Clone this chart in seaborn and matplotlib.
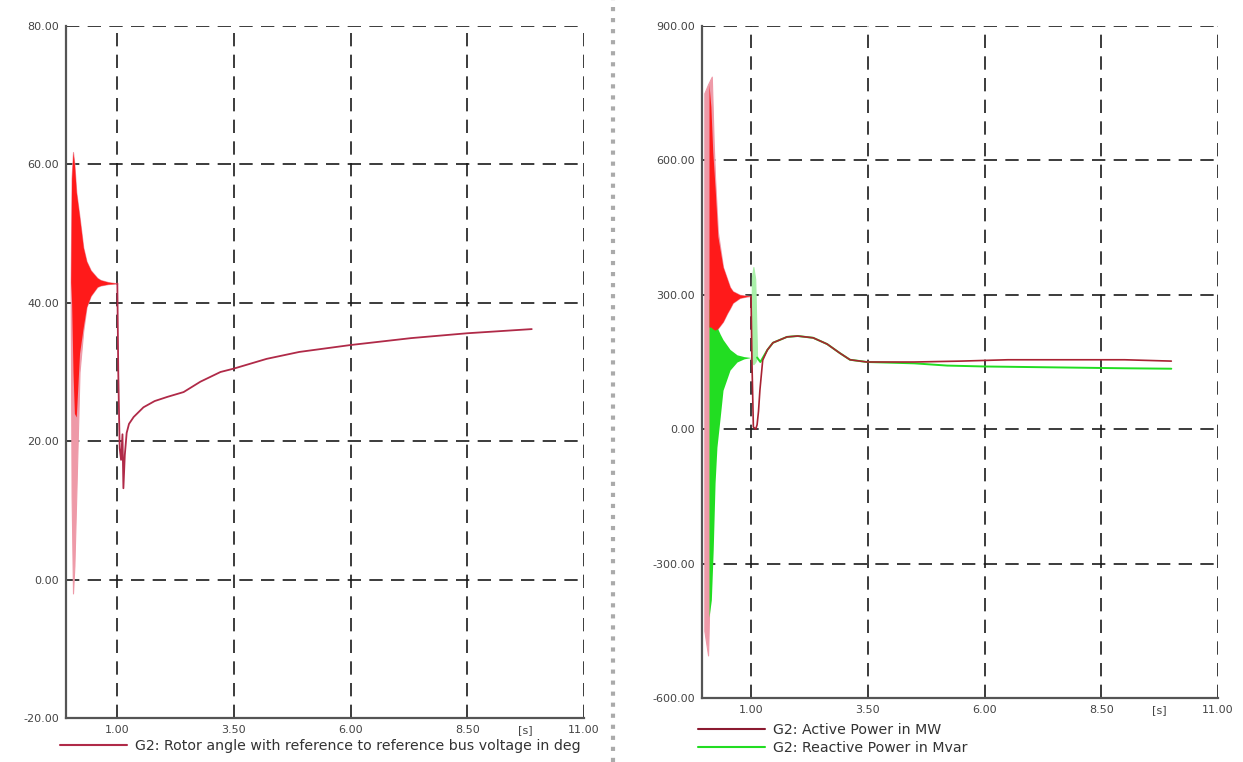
import numpy as np
import pandas as pd
import matplotlib
matplotlib.use("Agg")
import matplotlib.pyplot as plt
from matplotlib.lines import Line2D
import seaborn as sns

# ---------------- data ----------------
# shared x axis
x_major = [1.0, 3.5, 6.0, 8.5, 11.0]
x_major_labels = ["1.00", "3.50", "6.00", "8.50", "11.00"]
x_minor = [2.25, 4.75, 7.25, 9.75]
x_minor_labels = ["", "", "", "[s]"]

# left: rotor angle [deg]
rot_yticks = [-20, 0, 20, 40, 60, 80]
rot_yminor = [-10, 10, 30, 50, 70]
# fault period oscillation envelope
rot_env_t = [0.0, 0.02, 0.05, 0.08, 0.12, 0.19, 0.27, 0.34, 0.43, 0.57, 0.64, 0.80, 1.00]
rot_env_hi = [43.0, 58.0, 61.8, 60.0, 56.0, 52.4, 48.0, 46.0, 44.7, 43.6, 43.3, 43.0, 42.8]
rot_env_lo = [43.0, 40.0, 30.0, 24.0, 23.5, 32.7, 36.5, 39.4, 41.0, 42.3, 42.5, 42.7, 42.8]
rot_env_lo_outer = [43.0, 12.0, -2.0, 2.0, 12.0, 30.0, 36.0, 39.4, 41.0, 42.3, 42.5, 42.7, 42.8]
# post-fault trace
rot_t = [1.00, 1.02, 1.05, 1.08, 1.11, 1.13, 1.16, 1.20, 1.25, 1.35, 1.56, 1.80, 2.07,
         2.42, 2.78, 3.21, 3.50, 4.20, 4.90, 6.00, 7.30, 8.50, 9.88]
rot_v = [42.8, 30.0, 19.0, 17.3, 21.0, 13.2, 18.0, 21.2, 22.5, 23.5, 24.9, 25.8, 26.4,
         27.1, 28.6, 30.0, 30.5, 31.9, 32.9, 33.9, 34.9, 35.6, 36.2]

# right: active / reactive power
pw_yticks = [-600, -300, 0, 300, 600, 900]
pw_yminor = [-450, -150, 150, 450, 750]
# active power fault oscillation
p_env_t = [0.0, 0.08, 0.16, 0.20, 0.23, 0.29, 0.40, 0.49, 0.55, 0.61, 0.76, 0.90, 1.00]
p_env_hi = [750, 770, 787, 640, 560, 440, 362, 335, 317, 308, 300, 298, 297]
p_env_lo_outer = [-450, -505, -150, 200, 220, 225, 240, 259, 270, 282, 293, 296, 297]
p_dense_t = [0.10, 0.14, 0.18, 0.23, 0.29, 0.40, 0.49, 0.55, 0.61, 0.76, 0.90, 1.00]
p_dense_hi = [770, 720, 620, 540, 430, 362, 335, 317, 308, 300, 298, 297]
p_dense_lo = [228, 228, 224, 221, 225, 240, 259, 270, 282, 293, 296, 297]
# reactive power fault oscillation
q_env_t = [0.10, 0.15, 0.19, 0.23, 0.27, 0.34, 0.40, 0.55, 0.70, 0.85, 1.00]
q_env_hi = [290, 290, 260, 240, 228, 212, 200, 178, 166, 162, 160]
q_env_lo = [-420, -381, -270, -120, -40, 27, 87, 132, 150, 157, 160]
# reactive spike at fault clearing
q_spike_t = [1.00, 1.02, 1.05, 1.09, 1.13]
q_spike_hi = [160, 340, 362, 335, 160]
q_spike_lo = [160, 150, 145, 150, 160]
# post-fault traces
p_t = [1.00, 1.02, 1.05, 1.10, 1.13, 1.16, 1.19, 1.25, 1.35, 1.47, 1.77, 2.00, 2.33,
       2.63, 2.90, 3.12, 3.48, 4.50, 5.50, 6.50, 8.00, 9.00, 10.00]
p_v = [297, 150, 5, 0, 10, 40, 87, 154, 177, 193, 206, 208, 204,
       190, 170, 155, 150, 150, 152, 155, 155, 155, 152]
q_t = [1.13, 1.20, 1.35, 1.47, 1.77, 2.00, 2.33, 2.63, 2.90, 3.12, 3.48,
       4.50, 5.20, 6.00, 7.50, 9.00, 10.00]
q_v = [160, 150, 177, 193, 206, 208, 204, 190, 170, 155, 150,
       147, 142, 140, 138, 136, 135]

# legend labels
rot_label = "G2: Rotor angle with reference to reference bus voltage in deg"
p_label = "G2: Active Power in MW"
q_label = "G2: Reactive Power in Mvar"

# ---------------- styling ----------------
sns.set_theme(style="white")
plt.rcParams['font.family'] = ['DejaVu Sans']

W, H = 1243, 762
fig = plt.figure(figsize=(W / 100, H / 100), dpi=100)
axL = fig.add_axes([66 / W, 1 - 718 / H, (584 - 66) / W, (718 - 26) / H])
axR = fig.add_axes([702 / W, 1 - 698 / H, (1218 - 702) / W, (698 - 26) / H])

RED = "#ff1a1a"
PINK = "#ee9aa8"
ROT = "#b02a48"
PDARK = "#a82232"
GREEN = "#22dd22"
LGREEN = "#a8f0a8"


def style(ax, xlim, ylim, yticks, yminor):
    ax.set_xlim(*xlim)
    ax.set_ylim(*ylim)
    ax.set_xticks(x_major)
    ax.set_xticklabels(x_major_labels)
    ax.set_xticks(x_minor, minor=True)
    ax.set_xticklabels(x_minor_labels, minor=True)
    ax.set_yticks(yticks)
    ax.set_yticklabels([f"{v:.2f}" for v in yticks])
    ax.set_yticks(yminor, minor=True)
    ax.grid(True, which='major', color='#1a1a1a', linestyle=(0, (8, 5)), linewidth=1.2)
    ax.grid(False, which='minor')
    for s in ['top', 'right']:
        ax.spines[s].set_visible(False)
    for s in ['left', 'bottom']:
        ax.spines[s].set_color('#555555')
        ax.spines[s].set_linewidth(1.6)
    ax.tick_params(which='major', length=0, labelsize=8, labelcolor='#444444', pad=5)
    ax.tick_params(which='minor', direction='in', length=5, width=1.2, color='#333333',
                   labelsize=8, labelcolor='#444444', pad=5)
    ax.set_xlabel("")
    ax.set_ylabel("")


# ---- left panel ----
axL.fill_between(rot_env_t, rot_env_lo_outer, rot_env_hi, color=PINK, linewidth=0.8, zorder=2)
axL.fill_between(rot_env_t, rot_env_lo, rot_env_hi, color=RED, linewidth=0, zorder=3)
sns.lineplot(x=rot_t, y=rot_v, ax=axL, color=ROT, linewidth=1.3, estimator=None,
             sort=False, legend=False, zorder=4)
style(axL, (-0.1, 11.0), (-20, 80), rot_yticks, rot_yminor)

# ---- right panel ----
axR.fill_between(p_env_t, p_env_lo_outer, p_env_hi, color=PINK, linewidth=0.8, zorder=2)
axR.fill_between(q_env_t, q_env_lo, q_env_hi, color=GREEN, linewidth=0, zorder=3)
axR.fill_between(p_dense_t, p_dense_lo, p_dense_hi, color=RED, linewidth=0, zorder=4)
axR.fill_between(q_spike_t, q_spike_lo, q_spike_hi, color=LGREEN, linewidth=0.8, zorder=2)
sns.lineplot(x=q_t, y=q_v, ax=axR, color=GREEN, linewidth=1.4, estimator=None,
             sort=False, legend=False, zorder=4)
sns.lineplot(x=p_t, y=p_v, ax=axR, color=PDARK, linewidth=1.2, estimator=None,
             sort=False, legend=False, zorder=5)
style(axR, (-0.05, 11.0), (-600, 900), pw_yticks, pw_yminor)

# ---- legends ----
fig.legend(handles=[Line2D([0], [0], color=ROT, lw=1.5)], labels=[rot_label],
           loc='center left', bbox_to_anchor=(60 / W, 1 - 746 / H), frameon=False,
           fontsize=10.2, handlelength=4.7, handletextpad=0.6, borderpad=0,
           borderaxespad=0, labelcolor='#333333')
fig.legend(handles=[Line2D([0], [0], color="#8b1a30", lw=1.5),
                    Line2D([0], [0], color=GREEN, lw=1.5)],
           labels=[p_label, q_label],
           loc='center left', bbox_to_anchor=(698 / W, 1 - 739 / H), frameon=False,
           fontsize=10.2, handlelength=4.7, handletextpad=0.6, borderpad=0,
           borderaxespad=0, labelspacing=0.25, labelcolor='#333333')

# separator between the two plots
fig.add_artist(Line2D([613 / W, 613 / W], [0, 1], transform=fig.transFigure,
                      color='#aaaaaa', lw=3, linestyle=':'))

fig.savefig("out.png", dpi=100, facecolor='white')
